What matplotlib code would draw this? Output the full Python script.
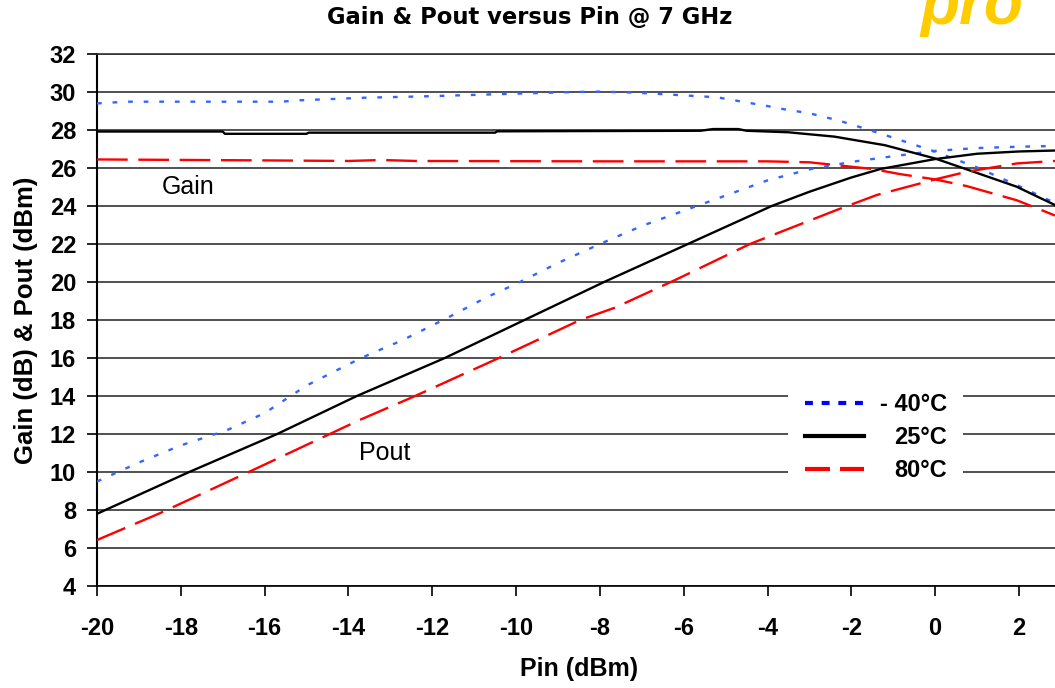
import matplotlib.pyplot as plt
from matplotlib.lines import Line2D

plt.rcParams['font.family'] = ['Liberation Sans', 'DejaVu Sans']
plt.rcParams['axes.unicode_minus'] = False

# gain curves (dB)
gain_m40_x = [-20, -19.3, -17, -15.6, -15.2, -13.6, -12.2, -10.2, -8.6, -8, -7.2, -6.6,
              -5.2, -4.5, -4, -3.6, -3, -2.3, -1.95, -1.27, -0.6, 0, 1, 2, 2.86]
gain_m40_y = [29.4, 29.49, 29.49, 29.49, 29.56, 29.7, 29.77, 29.9, 30.0, 30.02, 29.97, 29.9,
              29.72, 29.45, 29.26, 29.09, 28.88, 28.5, 28.26, 27.79, 27.3, 26.86, 26.03, 25.05, 24.16]

gain_25_x = [-20, -17, -16.95, -15, -14.95, -10.5, -10.45, -5.6, -5.3, -4.7, -4.5, -3.5,
             -2.4, -1.2, 0, 0.75, 1.94, 2.86]
gain_25_y = [27.92, 27.92, 27.8, 27.8, 27.86, 27.86, 27.93, 27.96, 28.05, 28.05, 27.96, 27.88,
             27.65, 27.2, 26.5, 25.93, 25.02, 24.05]

gain_80_x = [-20, -16, -14, -13.2, -12.4, -8, -4, -3, -2.4, -1.5, -0.84, 0, 0.75, 1.95, 2.86]
gain_80_y = [26.45, 26.4, 26.37, 26.42, 26.37, 26.35, 26.35, 26.3, 26.16, 25.95, 25.68, 25.4,
             25.05, 24.3, 23.5]

# output power curves (dBm)
pout_m40_x = [-20, -19, -18, -16.9, -16, -15, -13.7, -12.7, -11.65, -10.7, -10, -9, -8, -7,
              -6, -5, -4, -3, -2, -1, 0, 1, 2, 2.86]
pout_m40_y = [9.5, 10.5, 11.4, 12.2, 13.1, 14.55, 16.0, 16.95, 18.1, 19.2, 19.9, 21.0, 22.0, 22.95,
              23.75, 24.55, 25.35, 25.93, 26.32, 26.62, 26.9, 27.05, 27.12, 27.16]

pout_25_x = [-20, -17.8, -15.7, -13.8, -11.7, -9.8, -7.9, -5.9, -3.9, -3, -2, -1.3, 0, 1, 2, 2.86]
pout_25_y = [7.8, 10, 12, 14, 16, 18, 20, 22, 24, 24.75, 25.5, 25.95, 26.47, 26.75, 26.87, 26.92]

pout_80_x = [-20, -18.5, -16.35, -13.72, -12.45, -10.38, -8.47, -7.64, -6.17, -4.42, -2.35,
             -1.39, 0, 0.75, 1.95, 2.86]
pout_80_y = [6.42, 7.83, 10.03, 12.75, 13.96, 16.03, 18.0, 18.65, 20.14, 22.0, 23.79,
             24.58, 25.4, 25.8, 26.24, 26.37]

labels = ['- 40°C', '25°C', '80°C']
x_ticks = list(range(-20, 3, 2))
y_ticks = list(range(4, 33, 2))

fig = plt.figure(figsize=(10.55, 6.88), dpi=100)
ax = fig.add_axes([97 / 1055, 1 - 586 / 688, 958 / 1055, 532 / 688])

blue = '#3366FF'
ax.plot(gain_m40_x, gain_m40_y, color=blue, lw=1.7, dashes=(2, 4.6), zorder=3)
ax.plot(pout_m40_x, pout_m40_y, color=blue, lw=1.7, dashes=(2, 4.6), zorder=3)
ax.plot(gain_25_x, gain_25_y, color='black', lw=1.7, zorder=3)
ax.plot(pout_25_x, pout_25_y, color='black', lw=1.7, zorder=3)
ax.plot(gain_80_x, gain_80_y, color='red', lw=1.7, dashes=(13, 4.5), zorder=3)
ax.plot(pout_80_x, pout_80_y, color='red', lw=1.7, dashes=(13, 4.5), zorder=3)

ax.set_xlim(-20, 2.86)
ax.set_ylim(4, 32)
ax.set_xticks(x_ticks)
ax.set_yticks(y_ticks)
ax.yaxis.grid(True, color='#333333', lw=1.2)
ax.set_axisbelow(True)
ax.spines['right'].set_visible(False)
ax.spines['top'].set_color('#333333')
ax.spines['top'].set_linewidth(1.2)
ax.spines['left'].set_linewidth(1.5)
ax.spines['bottom'].set_linewidth(1.2)
ax.tick_params(direction='out', length=7, width=1.2, labelsize=17)
ax.tick_params(axis='x', pad=15)
ax.tick_params(axis='y', pad=8)
for t in ax.get_xticklabels() + ax.get_yticklabels():
    t.set_fontweight('bold')

ax.set_xlabel('Pin (dBm)', fontsize=18, fontweight='bold')
ax.xaxis.set_label_coords(0.503, -0.133)
ax.set_ylabel('Gain (dB) & Pout (dBm)', fontsize=18.5, fontweight='bold')
ax.yaxis.set_label_coords(-0.062, 0.5)

fig.text(0.502, 0.974, 'Gain & Pout versus Pin @ 7 GHz', fontsize=16.3, fontweight='bold',
         family='DejaVu Sans', ha='center', va='center')

ax.text(-17.83, 25.0, 'Gain', fontsize=18, ha='center', va='center')
ax.text(-13.13, 11.0, 'Pout', fontsize=18, ha='center', va='center')

handles = [Line2D([], [], color='#0000FF', lw=3, dashes=(1.9, 2.1)),
           Line2D([], [], color='black', lw=3),
           Line2D([], [], color='red', lw=3, dashes=(6, 2.4))]
leg = ax.legend(handles, labels, loc='center', bbox_to_anchor=(0.813, 0.279),
                frameon=True, fancybox=False, facecolor='white', edgecolor='none',
                framealpha=1, prop=dict(weight='bold', size=17), handlelength=2.5,
                handletextpad=0.68, labelspacing=0.43, borderpad=0.7)
leg.get_frame().set_linewidth(0)

# right-align the legend labels like the original
fig.canvas.draw()
texts = leg.get_texts()
widths = [t.get_window_extent().width for t in texts]
for t, w in zip(texts, widths):
    t.set_x(max(widths) - w)

# partly visible logo in the top right corner
fig.text(0.872, 1 - 24 / 688, 'pro', color='#FFCC00', fontsize=46, fontweight='bold',
         fontstyle='italic', va='baseline', ha='left')

fig.savefig('out.png', dpi=100)
